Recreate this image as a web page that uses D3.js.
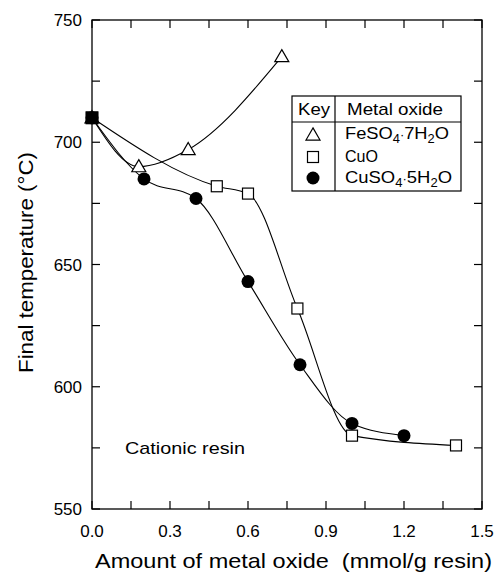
<!DOCTYPE html>
<html>
<head>
<meta charset="utf-8">
<script src="https://cdn.jsdelivr.net/npm/d3@7"></script>
<style>
  html, body { margin: 0; padding: 0; background: #fff; }
  text { font-family: "Liberation Sans", Arial, Helvetica, sans-serif; fill: #000; }
</style>
</head>
<body>
<svg id="chart" width="495" height="573"></svg>
<script>
// ---- data ----
const xTicksMajor = [0.0, 0.3, 0.6, 0.9, 1.2, 1.5];
const yTicksMajor = [550, 600, 650, 700, 750];
const feX = [0.0, 0.18, 0.37, 0.73];
const feY = [710, 690, 697, 735];
const cuoX = [0.0, 0.48, 0.60, 0.79, 1.00, 1.40];
const cuoY = [710, 682, 679, 632, 580, 576];
const cusX = [0.0, 0.20, 0.40, 0.60, 0.80, 1.00, 1.20];
const cusY = [710, 685, 677, 643, 609, 585, 580];
const seriesNames = ["FeSO4·7H2O", "CuO", "CuSO4·5H2O"];
const xTitle = "Amount of metal oxide\u00A0 (mmol/g resin)";
const yTitle = "Final temperature (°C)";
const note = "Cationic resin";

const svg = d3.select("#chart");
const L = 92, R = 482, T = 20, B = 509;
const x = d3.scaleLinear().domain([0, 1.5]).range([L, R]);
const y = d3.scaleLinear().domain([550, 750]).range([B, T]);

const xMinor = d3.range(0, 1.5001, 0.15);
const yMinor = d3.range(550, 750.001, 25);
const tk = 8;

// frame
svg.append("rect").attr("x", L).attr("y", T).attr("width", R - L).attr("height", B - T)
  .attr("fill", "none").attr("stroke", "#000").attr("stroke-width", 1.3);

// ticks (inward, all four sides)
const g = svg.append("g").attr("stroke", "#000").attr("stroke-width", 1.2);
xMinor.forEach(v => {
  g.append("line").attr("x1", x(v)).attr("x2", x(v)).attr("y1", B).attr("y2", B - tk);
  g.append("line").attr("x1", x(v)).attr("x2", x(v)).attr("y1", T).attr("y2", T + tk);
});
yMinor.forEach(v => {
  g.append("line").attr("x1", L).attr("x2", L + tk).attr("y1", y(v)).attr("y2", y(v));
  g.append("line").attr("x1", R).attr("x2", R - tk).attr("y1", y(v)).attr("y2", y(v));
});

// tick labels
svg.selectAll(".xl").data(xTicksMajor).enter().append("text")
  .attr("x", d => x(d)).attr("y", 537).attr("text-anchor", "middle")
  .attr("font-size", 17).text(d => d.toFixed(1));
svg.selectAll(".yl").data(yTicksMajor).enter().append("text")
  .attr("x", 82).attr("y", d => y(d) + 6).attr("text-anchor", "end")
  .attr("font-size", 17).text(d => d);

// titles
svg.append("text").attr("x", 95).attr("y", 568)
  .attr("font-size", 21).attr("textLength", 397).attr("lengthAdjust", "spacingAndGlyphs").text(xTitle);
svg.append("text").attr("transform", "translate(33,373) rotate(-90)")
  .attr("font-size", 21).attr("textLength", 221).attr("lengthAdjust", "spacingAndGlyphs").text(yTitle);
svg.append("text").attr("x", 125).attr("y", 454).attr("font-size", 17)
  .attr("textLength", 120).attr("lengthAdjust", "spacingAndGlyphs").text(note);

// curves
const line = d3.line().x(d => x(d[0])).y(d => y(d[1])).curve(d3.curveMonotoneX);
const zip = (a, b) => a.map((v, i) => [v, b[i]]);
const fe = zip(feX, feY), cuo = zip(cuoX, cuoY), cus = zip(cusX, cusY);
[fe, cuo, cus].forEach(s => {
  svg.append("path").attr("d", line(s)).attr("fill", "none").attr("stroke", "#000").attr("stroke-width", 1.1);
});

// markers
const tri = d3.symbol().type(d3.symbolTriangle).size(85);
function drawTri(cx, cy) {
  svg.append("path").attr("d", tri()).attr("transform", `translate(${cx},${cy + 1})`)
    .attr("fill", "#fff").attr("stroke", "#000").attr("stroke-width", 1.2);
}
function drawSq(cx, cy) {
  svg.append("rect").attr("x", cx - 5.5).attr("y", cy - 5.5).attr("width", 11).attr("height", 11)
    .attr("fill", "#fff").attr("stroke", "#000").attr("stroke-width", 1.2);
}
function drawCirc(cx, cy) {
  svg.append("circle").attr("cx", cx).attr("cy", cy).attr("r", 6.5).attr("fill", "#000");
}
fe.forEach(d => drawTri(x(d[0]), y(d[1])));
cuo.forEach(d => drawSq(x(d[0]), y(d[1])));
cus.forEach(d => drawCirc(x(d[0]), y(d[1])));
// start point where all series coincide shown as filled square
svg.append("rect").attr("x", x(0) - 6.5).attr("y", y(710) - 6.5).attr("width", 13).attr("height", 13).attr("fill", "#000");

// legend
const lg = svg.append("g");
const lx0 = 292, lx1 = 461, ly0 = 96, ly1 = 191, ldiv = 335, lhdr = 122;
lg.append("rect").attr("x", lx0).attr("y", ly0).attr("width", lx1 - lx0).attr("height", ly1 - ly0)
  .attr("fill", "#fff").attr("stroke", "#000").attr("stroke-width", 1.2);
lg.append("line").attr("x1", ldiv).attr("x2", ldiv).attr("y1", ly0).attr("y2", ly1).attr("stroke", "#000").attr("stroke-width", 1.2);
lg.append("line").attr("x1", lx0).attr("x2", lx1).attr("y1", lhdr).attr("y2", lhdr).attr("stroke", "#000").attr("stroke-width", 1.2);
lg.append("text").attr("x", 298).attr("y", 115).attr("font-size", 17)
  .attr("textLength", 32).attr("lengthAdjust", "spacingAndGlyphs").text("Key");
lg.append("text").attr("x", 347).attr("y", 115).attr("font-size", 17)
  .attr("textLength", 96).attr("lengthAdjust", "spacingAndGlyphs").text("Metal oxide");

function chem(t, xx, yy, len) {
  const te = lg.append("text").attr("x", xx).attr("y", yy).attr("font-size", 17)
    .attr("textLength", len).attr("lengthAdjust", "spacingAndGlyphs");
  const parts = t.match(/[A-Za-z]+|\d+|·/g);
  let prevLetter = false, shift = 0;
  parts.forEach(p => {
    if (/^\d+$/.test(p) && prevLetter) {
      te.append("tspan").attr("font-size", 12).attr("dy", 4 - shift).text(p);
      shift = 4;
    } else if (p === "·") {
      te.append("tspan").attr("font-size", 12).attr("dy", -shift).text("·");
      shift = 0;
    } else {
      te.append("tspan").attr("font-size", 17).attr("dy", -shift).text(p);
      shift = 0;
    }
    prevLetter = /^[A-Za-z]+$/.test(p);
  });
}
const rowsY = [139, 162, 183];
chem(seriesNames[0], 345, rowsY[0], 104);
chem(seriesNames[1], 345, rowsY[1], 33);
chem(seriesNames[2], 345, rowsY[2], 107);
drawTri(313, 135);
drawSq(313, 157);
drawCirc(313, 178);
</script>
</body>
</html>
